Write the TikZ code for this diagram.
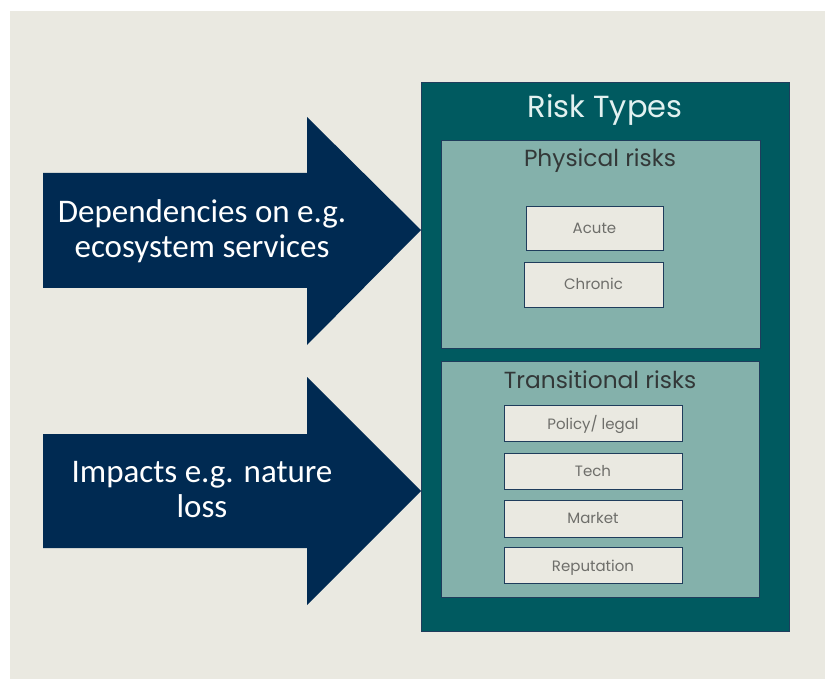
\documentclass[tikz,border=0pt]{standalone}
\usepackage{fontspec}
\setmainfont{Poppins}
\newfontfamily\arrowfont{Carlito}
\definecolor{pagebg}{HTML}{EAE9E1}
\definecolor{navy}{HTML}{002A52}
\definecolor{teal}{HTML}{005A60}
\definecolor{sage}{HTML}{84B1AB}
\definecolor{edge}{HTML}{1F3D5C}
\definecolor{titlegray}{HTML}{333838}
\definecolor{labelgray}{HTML}{6E6E6A}
\definecolor{paletitle}{HTML}{E2F1F0}
\tikzset{
  bigarrow/.style={fill=navy},
  % base anchor of a two-line node sits on the last line's baseline
  arrowtext/.style={text=white, align=center, anchor=base, font=\arrowfont\fontsize{33}{35}\selectfont},
  outerbox/.style={fill=teal, draw=edge, line width=0.8pt},
  groupbox/.style={fill=sage, draw=edge, line width=0.8pt},
  riskbox/.style={fill=pagebg, draw=edge, line width=1pt},
  risklabel/.style={text=labelgray, anchor=base, font=\fontsize{15}{17}\selectfont},
  grouptitle/.style={text=titlegray, anchor=base, font=\fontsize{23.3}{26}\selectfont},
}
\begin{document}
\begin{tikzpicture}[x=1pt, y=-1pt]
\useasboundingbox (0,0) rectangle (825,679);
\fill[pagebg] (10,11) rectangle (825,679);

% block arrows
\fill[bigarrow] (43,173) -- (307,173) -- (307,117) -- (421,230) -- (307,345) -- (307,288) -- (43,288) -- cycle;
\node[arrowtext] (deptext) at (202,258) {Dependencies on e.g.\\ecosystem services};
\fill[bigarrow] (43,434) -- (307,434) -- (307,377) -- (421,491) -- (307,605) -- (307,548) -- (43,548) -- cycle;
\node[arrowtext] (imptext) at (202,517) {Impacts e.g. nature\\loss};

% risk types panel
\draw[outerbox] (421,82) rectangle (789,631);
\node[text=paletitle, anchor=base, font=\fontsize{30.5}{34}\selectfont] (title) at (605,118) {Risk Types};

% physical risks
\draw[groupbox] (441,140) rectangle (760,348);
\node[grouptitle] (phys) at (600,167) {Physical risks};
\draw[riskbox] (526,207) rectangle (663,251);
\node[risklabel] (acute) at (594.5,234) {Acute};
\draw[riskbox] (524,263) rectangle (663,307);
\node[risklabel] (chronic) at (593.5,290) {Chronic};

% transitional risks
\draw[groupbox] (441,361) rectangle (759,597);
\node[grouptitle] (trans) at (600,388) {Transitional risks};
\draw[riskbox] (504,405) rectangle (682,441);
\node[risklabel] (policy) at (593,429) {Policy/ legal};
\draw[riskbox] (504,453) rectangle (682,489);
\node[risklabel] (tech) at (593,476) {Tech};
\draw[riskbox] (504,500) rectangle (682,537);
\node[risklabel] (market) at (593,523.5) {Market};
\draw[riskbox] (504,547) rectangle (682,583);
\node[risklabel] (reput) at (593,571) {Reputation};
\end{tikzpicture}
\end{document}
